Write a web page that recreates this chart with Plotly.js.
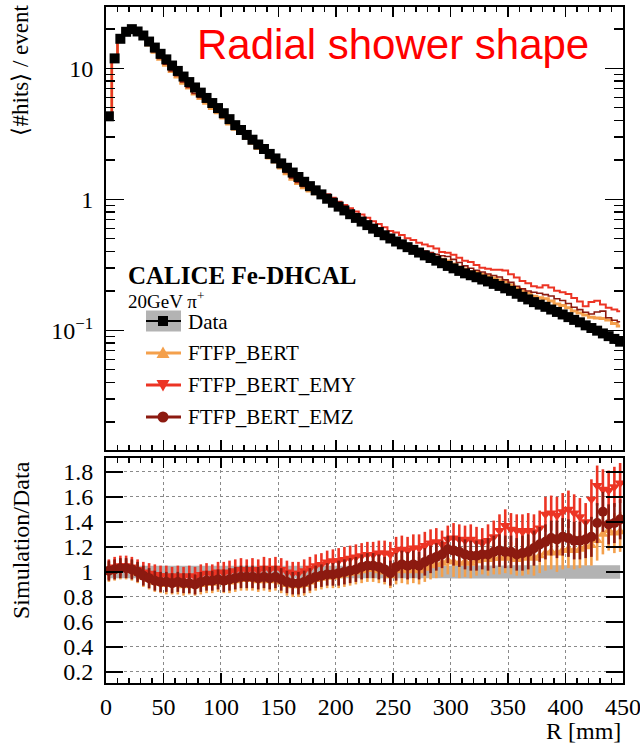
<!DOCTYPE html>
<html><head><meta charset="utf-8">
<script src="https://cdn.plot.ly/plotly-3.0.1.min.js"></script>
<style>html,body{margin:0;padding:0;background:#fff}#chart{width:640px;height:745px}</style>
</head><body><div id="chart"></div>
<script>
// Bin centres R [mm] (5 mm bins)
const R = [2.5,7.5,12.5,17.5,22.5,27.5,32.5,37.5,42.5,47.5,
 52.5,57.5,62.5,67.5,72.5,77.5,82.5,87.5,92.5,97.5,
 102.5,107.5,112.5,117.5,122.5,127.5,132.5,137.5,142.5,147.5,
 152.5,157.5,162.5,167.5,172.5,177.5,182.5,187.5,192.5,197.5,
 202.5,207.5,212.5,217.5,222.5,227.5,232.5,237.5,242.5,247.5,
 252.5,257.5,262.5,267.5,272.5,277.5,282.5,287.5,292.5,297.5,
 302.5,307.5,312.5,317.5,322.5,327.5,332.5,337.5,342.5,347.5,
 352.5,357.5,362.5,367.5,372.5,377.5,382.5,387.5,392.5,397.5,
 402.5,407.5,412.5,417.5,422.5,427.5,432.5,437.5,442.5,447.5];

// Data: <#hits>/event
const dataHits = [4.3,11.9,16.8,19.0,19.9,19.1,17.8,16.0,14.4,12.9,
 11.7,10.5,9.55,8.65,7.85,7.14,6.52,5.94,5.43,4.97,
 4.54,4.09,3.68,3.38,3.10,2.85,2.62,2.42,2.22,2.05,
 1.88,1.74,1.60,1.48,1.36,1.26,1.17,1.09,1.01,0.942,
 0.879,0.822,0.769,0.721,0.676,0.635,0.597,0.562,0.531,0.502,
 0.476,0.453,0.431,0.411,0.392,0.373,0.356,0.340,0.325,0.310,
 0.297,0.284,0.272,0.263,0.254,0.244,0.236,0.226,0.218,0.209,
 0.200,0.190,0.180,0.172,0.164,0.157,0.151,0.144,0.138,0.132,
 0.126,0.120,0.115,0.109,0.104,0.0993,0.0946,0.0902,0.0859,0.0818];

// Data relative uncertainty (grey band in ratio)
const dataRelUnc = [0.05,0.05,0.05,0.05,0.05,0.05,0.05,0.05,0.05,0.05,
 0.05,0.05,0.05,0.05,0.05,0.05,0.05,0.05,0.05,0.05,
 0.05,0.05,0.05,0.05,0.05,0.05,0.05,0.05,0.05,0.05,
 0.05,0.05,0.05,0.05,0.05,0.05,0.05,0.05,0.05,0.05,
 0.05,0.05,0.05,0.05,0.05,0.05,0.05,0.05,0.05,0.05,
 0.05,0.05,0.05,0.05,0.05,0.05,0.05,0.05,0.05,0.05,
 0.052,0.052,0.052,0.052,0.052,0.052,0.052,0.052,0.052,0.052,
 0.053,0.053,0.053,0.053,0.053,0.053,0.053,0.053,0.053,0.053,
 0.054,0.054,0.054,0.054,0.054,0.054,0.054,0.054,0.054,0.054];

// Simulation / Data ratios
const ratioBERT = [1.00,1.01,1.02,1.02,1.01,0.99,0.96,0.94,0.92,0.91,
 0.90,0.90,0.90,0.89,0.90,0.89,0.90,0.91,0.91,0.92,
 0.92,0.92,0.93,0.94,0.94,0.94,0.93,0.94,0.93,0.94,
 0.92,0.90,0.89,0.89,0.90,0.92,0.94,0.95,0.96,0.96,
 0.97,0.98,0.99,1.00,1.01,1.02,1.02,1.01,1.00,0.97,
 1.01,1.02,1.01,1.02,1.01,1.03,1.05,1.06,1.07,1.09,
 1.08,1.07,1.08,1.07,1.09,1.10,1.10,1.11,1.11,1.12,
 1.11,1.10,1.11,1.12,1.11,1.13,1.15,1.16,1.15,1.17,
 1.18,1.17,1.18,1.20,1.21,1.25,1.30,1.33,1.31,1.32];
const ratioEMY = [1.02,1.04,1.05,1.05,1.04,1.02,1.00,0.99,0.98,0.97,
 0.97,0.96,0.97,0.96,0.97,0.96,0.98,0.99,0.98,1.00,
 0.99,1.00,1.01,1.02,1.01,1.02,1.01,1.03,1.02,1.03,
 1.02,1.00,0.99,0.99,1.01,1.03,1.05,1.06,1.08,1.09,
 1.09,1.10,1.11,1.12,1.13,1.14,1.14,1.15,1.15,1.14,
 1.17,1.18,1.17,1.19,1.19,1.21,1.23,1.24,1.22,1.26,
 1.27,1.26,1.25,1.26,1.24,1.23,1.25,1.28,1.33,1.37,
 1.34,1.33,1.32,1.33,1.32,1.35,1.46,1.47,1.45,1.48,
 1.50,1.47,1.44,1.40,1.58,1.69,1.66,1.65,1.68,1.71];
const ratioEMZ = [1.01,1.02,1.03,1.03,1.02,1.00,0.97,0.95,0.93,0.92,
 0.92,0.91,0.92,0.91,0.91,0.90,0.92,0.93,0.93,0.94,
 0.93,0.94,0.95,0.96,0.96,0.96,0.95,0.96,0.95,0.96,
 0.94,0.92,0.91,0.91,0.92,0.94,0.96,0.97,0.98,0.98,
 0.99,1.00,1.01,1.02,1.04,1.05,1.05,1.04,1.02,0.99,
 1.04,1.06,1.05,1.06,1.05,1.08,1.10,1.12,1.14,1.18,
 1.17,1.16,1.14,1.13,1.13,1.14,1.14,1.16,1.17,1.16,
 1.16,1.14,1.15,1.16,1.19,1.22,1.24,1.27,1.26,1.28,
 1.27,1.25,1.25,1.26,1.28,1.39,1.48,1.38,1.39,1.42];
const ratioErr = [0.08,0.08,0.08,0.08,0.08,0.08,0.08,0.08,0.08,0.08,
 0.08,0.08,0.08,0.08,0.08,0.08,0.08,0.08,0.08,0.08,
 0.09,0.09,0.09,0.09,0.09,0.09,0.09,0.09,0.09,0.09,
 0.09,0.09,0.09,0.09,0.09,0.09,0.09,0.09,0.09,0.09,
 0.10,0.10,0.10,0.10,0.10,0.10,0.10,0.10,0.10,0.10,
 0.11,0.11,0.11,0.11,0.11,0.11,0.11,0.11,0.11,0.11,
 0.12,0.12,0.12,0.12,0.12,0.12,0.13,0.13,0.13,0.13,
 0.13,0.13,0.14,0.14,0.14,0.14,0.14,0.14,0.15,0.15,
 0.15,0.15,0.15,0.15,0.16,0.16,0.16,0.16,0.16,0.16];

const seriesNames = ['Data','FTFP_BERT','FTFP_BERT_EMY','FTFP_BERT_EMZ'];
const xTicks = [0,50,100,150,200,250,300,350,400,450];
const ratioTicks = [0.2,0.4,0.6,0.8,1,1.2,1.4,1.6,1.8];
const logTicks = [0.1,1,10];
const logTickText = ['10<sup>\u22121</sup>','1','10'];
const logMinor = [0.02,0.03,0.04,0.05,0.06,0.07,0.08,0.09,0.2,0.3,0.4,0.5,0.6,0.7,0.8,0.9,2,3,4,5,6,7,8,9,20];

const C_OR = '#f4a04c', C_RED = '#ec3424', C_DR = '#8c1a10', C_GREY = '#b3b3b3';
const FONT = 'Liberation Serif, Times New Roman, serif';

const simBERT = dataHits.map((v,i)=>v*ratioBERT[i]);
const simEMY = dataHits.map((v,i)=>v*ratioEMY[i]);
const simEMZ = dataHits.map((v,i)=>v*ratioEMZ[i]);
const bandLo = dataRelUnc.map(u=>1-u);
const bandHi = dataRelUnc.map(u=>1+u);

const errStyle = c => ({type:'data',array:ratioErr,color:c,thickness:2.6,width:0});
const xerrStyle = c => ({type:'constant',value:2.5,color:c,thickness:2.6,width:0});

const traces = [
 {x:R,y:simBERT,xaxis:'x',yaxis:'y',mode:'lines',line:{color:C_OR,width:3,shape:'hvh'},showlegend:false,name:seriesNames[1]},
 {x:R,y:simEMZ,xaxis:'x',yaxis:'y',mode:'lines',line:{color:C_DR,width:1.6,shape:'hvh'},showlegend:false,name:seriesNames[3]},
 {x:R,y:simEMY,xaxis:'x',yaxis:'y',mode:'lines',line:{color:C_RED,width:2,shape:'hvh'},showlegend:false,name:seriesNames[2]},
 {x:R,y:dataHits,xaxis:'x',yaxis:'y',mode:'markers',marker:{symbol:'square',size:10,color:'#000'},showlegend:false,name:seriesNames[0]},
 {x:R,y:bandLo,xaxis:'x2',yaxis:'y2',mode:'lines',line:{width:0,shape:'hvh'},showlegend:false,hoverinfo:'skip'},
 {x:R,y:bandHi,xaxis:'x2',yaxis:'y2',mode:'lines',line:{width:0,shape:'hvh'},fill:'tonexty',fillcolor:C_GREY,showlegend:false,name:seriesNames[0]},
 {x:R,y:ratioBERT,xaxis:'x2',yaxis:'y2',mode:'markers',marker:{symbol:'triangle-up',size:10,color:C_OR},
  error_y:errStyle(C_OR),error_x:xerrStyle(C_OR),showlegend:false,name:seriesNames[1]},
 {x:R,y:ratioEMY,xaxis:'x2',yaxis:'y2',mode:'markers',marker:{symbol:'triangle-down',size:10,color:C_RED},
  error_y:errStyle(C_RED),error_x:xerrStyle(C_RED),showlegend:false,name:seriesNames[2]},
 {x:R,y:ratioEMZ,xaxis:'x2',yaxis:'y2',mode:'markers',marker:{symbol:'circle',size:10,color:C_DR},
  error_y:errStyle(C_DR),error_x:xerrStyle(C_DR),showlegend:false,name:seriesNames[3]}
];

// pixel -> paper helpers (plot area: x 106..623, y 7..683)
const px = v => (v-106)/517;
const py = v => (683-v)/676;

const tickFont = {family:FONT,size:24,color:'#000'};
const baseAx = {showline:true,linecolor:'#000',linewidth:2,mirror:'allticks',ticks:'inside',tickcolor:'#000',tickwidth:1.5,zeroline:false};

const layout = {
 width:640,height:745,paper_bgcolor:'#fff',plot_bgcolor:'#fff',
 margin:{l:106,r:17,t:7,b:62},
 showlegend:false,
 font:{family:FONT,color:'#000'},
 xaxis:Object.assign({},baseAx,{domain:[0,1],anchor:'y',range:[0,450],tickvals:xTicks,showticklabels:false,ticklen:10,
   minor:{dtick:10,tick0:0,ticks:'inside',ticklen:5,tickcolor:'#000',tickwidth:1.5},showgrid:false}),
 yaxis:Object.assign({},baseAx,{domain:[0.3447,1],anchor:'x',type:'log',range:[-1.914,1.468],tickvals:logTicks,ticktext:logTickText,
   ticklen:18,tickfont:tickFont,ticklabelstandoff:6,minor:{tickmode:'array',tickvals:logMinor,ticks:'inside',ticklen:9,tickcolor:'#000',tickwidth:1.5},showgrid:false}),
 xaxis2:Object.assign({},baseAx,{domain:[0,1],anchor:'y2',range:[0,450],tickvals:xTicks,ticklen:10,tickfont:tickFont,ticklabelstandoff:1,
   ticklabeloverflow:'allow',
   minor:{dtick:10,tick0:0,ticks:'inside',ticklen:5,tickcolor:'#000',tickwidth:1.5},
   showgrid:true,gridcolor:'#8a8a8a',griddash:'dot',gridwidth:1}),
 yaxis2:Object.assign({},baseAx,{domain:[0,0.3328],anchor:'x2',range:[0.112,1.91],tickvals:ratioTicks,ticklen:17,tickfont:tickFont,ticklabelstandoff:6,
   showgrid:true,gridcolor:'#8a8a8a',griddash:'dot',gridwidth:1}),
 annotations:[
  {xref:'paper',yref:'paper',x:px(20),y:py(3),xanchor:'center',yanchor:'top',textangle:-90,showarrow:false,
   text:'\u27E8#hits\u27E9 / event',font:{family:FONT,size:23,color:'#000'}},
  {xref:'paper',yref:'paper',x:px(21),y:py(540),xanchor:'center',yanchor:'middle',textangle:-90,showarrow:false,
   text:'Simulation/Data',font:{family:FONT,size:24,color:'#000'}},
  {xref:'paper',yref:'paper',x:1,y:py(731),xanchor:'right',yanchor:'middle',showarrow:false,
   text:'R [mm]',font:{family:FONT,size:24,color:'#000'}},
  {xref:'paper',yref:'paper',x:px(195),y:py(44),xanchor:'left',yanchor:'middle',showarrow:false,
   text:'Radial shower shape',font:{family:'Liberation Sans, Arial, sans-serif',size:42,color:'#ff0000'}},
  {xref:'paper',yref:'paper',x:px(126),y:py(275),xanchor:'left',yanchor:'middle',showarrow:false,
   text:'<b>CALICE Fe-DHCAL</b>',font:{family:FONT,size:25,color:'#000'}},
  {xref:'paper',yref:'paper',x:px(126),y:py(300),xanchor:'left',yanchor:'middle',showarrow:false,
   text:'20GeV \u03C0<sup>+</sup>',font:{family:FONT,size:19,color:'#000'}},
  {xref:'paper',yref:'paper',x:px(186),y:py(322),xanchor:'left',yanchor:'middle',showarrow:false,text:seriesNames[0],font:{family:FONT,size:21,color:'#000'}},
  {xref:'paper',yref:'paper',x:px(186),y:py(353),xanchor:'left',yanchor:'middle',showarrow:false,text:seriesNames[1],font:{family:FONT,size:21,color:'#000'}},
  {xref:'paper',yref:'paper',x:px(186),y:py(385),xanchor:'left',yanchor:'middle',showarrow:false,text:seriesNames[2],font:{family:FONT,size:21,color:'#000'}},
  {xref:'paper',yref:'paper',x:px(186),y:py(417),xanchor:'left',yanchor:'middle',showarrow:false,text:seriesNames[3],font:{family:FONT,size:21,color:'#000'}}
 ],
 shapes:[]
};

// legend glyphs (pixel-sized shapes anchored in paper coords)
function glyphs(cy, color, kind, lw){
 const ax = px(163), ay = py(cy);
 const base = {xref:'paper',yref:'paper',xsizemode:'pixel',ysizemode:'pixel',xanchor:ax,yanchor:ay};
 const out = [];
 if(kind==='data'){
  out.push(Object.assign({},base,{type:'rect',x0:-17,x1:18,y0:-10.5,y1:10.5,fillcolor:C_GREY,line:{width:0}}));
 }
 out.push(Object.assign({},base,{type:'line',x0:-17,x1:18,y0:0,y1:0,line:{color:color,width:lw}}));
 if(kind==='data') out.push(Object.assign({},base,{type:'rect',x0:-5,x1:5,y0:-5,y1:5,fillcolor:color,line:{width:0}}));
 if(kind==='up') out.push(Object.assign({},base,{type:'path',path:'M -6.5 -5 L 6.5 -5 L 0 6.5 Z',fillcolor:color,line:{width:0}}));
 if(kind==='down') out.push(Object.assign({},base,{type:'path',path:'M -6.5 5 L 6.5 5 L 0 -6.5 Z',fillcolor:color,line:{width:0}}));
 if(kind==='circ') out.push(Object.assign({},base,{type:'circle',x0:-5.5,x1:5.5,y0:-5.5,y1:5.5,fillcolor:color,line:{width:0}}));
 return out;
}
layout.shapes = [].concat(
 glyphs(321,'#000','data',2),
 glyphs(353,C_OR,'up',3),
 glyphs(385,C_RED,'down',3),
 glyphs(417,C_DR,'circ',3)
);

Plotly.newPlot('chart',traces,layout,{displayModeBar:false,staticPlot:true});
</script></body></html>
